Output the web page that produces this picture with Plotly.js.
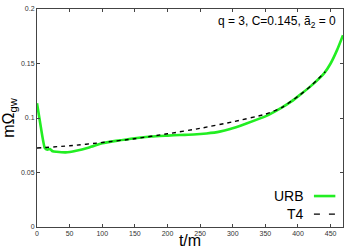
<!DOCTYPE html>
<html><head><meta charset="utf-8">
<script src="https://cdn.plot.ly/plotly-3.0.1.min.js"></script>
<style>html,body{margin:0;padding:0;background:#fff}#chart{width:356px;height:249px}</style>
</head><body><div id="chart"></div>
<script>
const urbT = [0, 5, 12, 16, 20, 24, 30, 44, 60, 80, 100, 121, 150, 175, 200, 219, 240, 260, 280, 296, 320, 350, 375, 390, 403, 420, 440, 450, 460, 469];
const urbY = [0.1135, 0.095, 0.0725, 0.071, 0.0715, 0.0695, 0.069, 0.0685, 0.070, 0.073, 0.0768, 0.079, 0.0815, 0.083, 0.0838, 0.0844, 0.0848, 0.0858, 0.0875, 0.0899, 0.0948, 0.1015, 0.1095, 0.1152, 0.1212, 0.1295, 0.1410, 0.1500, 0.1625, 0.1760];
const t4T = [0, 50, 100, 150, 200, 250, 300, 350, 375, 403, 420, 442];
const t4Y = [0.0725, 0.0745, 0.0775, 0.081, 0.0855, 0.0905, 0.0965, 0.1035, 0.1095, 0.1212, 0.1295, 0.1425];
const xTicks = [0, 50, 100, 150, 200, 250, 300, 350, 400, 450];
const yTicks = [0, 0.05, 0.1, 0.15, 0.2];
const yTickText = ["0", "0.05", "0.1", "0.15", "0.2"];
const legendNames = ["URB", "T4"];
const FONT = "Liberation Sans, Arial, Helvetica, sans-serif";

const traces = [
  {x: urbT, y: urbY, mode: "lines", name: legendNames[0], line: {color: "#22ee22", width: 2.6, shape: "spline", smoothing: 0.5}, showlegend: false},
  {x: t4T, y: t4Y, mode: "lines", name: legendNames[1], line: {color: "#000", width: 1.4, dash: "4px,4px", shape: "spline", smoothing: 0.5}, showlegend: false}
];

const layout = {
  width: 356, height: 249,
  margin: {l: 37, r: 13, t: 9, b: 22},
  paper_bgcolor: "#fff", plot_bgcolor: "#fff",
  font: {family: FONT, color: "#000"},
  xaxis: {
    range: [0, 469], tickvals: xTicks, ticks: "inside", ticklen: 3, tickcolor: "#444",
    showline: true, linecolor: "#444", linewidth: 1, mirror: "ticks", showgrid: false, zeroline: false,
    tickfont: {size: 7, color: "#333", family: FONT},
    title: {text: "t/m", font: {size: 16, family: FONT}, standoff: 2}
  },
  yaxis: {
    range: [0, 0.2], tickvals: yTicks, ticktext: yTickText, ticks: "inside", ticklen: 3, tickcolor: "#444",
    showline: true, linecolor: "#444", linewidth: 1, mirror: "ticks", showgrid: false, zeroline: false,
    tickfont: {size: 7, color: "#333", family: FONT},
    title: {text: "mΩ<sub>gw</sub>", font: {size: 16, family: FONT}, standoff: 4}
  },
  annotations: [
    {xref: "paper", yref: "paper", x: 0.985, y: 0.985, xanchor: "right", yanchor: "top", showarrow: false,
     text: "q = 3, C=0.145, ã<sub>2</sub> = 0", font: {size: 12, family: FONT}},
    {xref: "paper", yref: "paper", x: 0.880, y: 0.143, xanchor: "right", yanchor: "middle", showarrow: false,
     text: legendNames[0], font: {size: 14, family: FONT}},
    {xref: "paper", yref: "paper", x: 0.880, y: 0.060, xanchor: "right", yanchor: "middle", showarrow: false,
     text: legendNames[1], font: {size: 14, family: FONT}}
  ],
  shapes: [
    {type: "line", xref: "paper", yref: "paper", x0: 0.905, x1: 0.975, y0: 0.142, y1: 0.142, line: {color: "#22ee22", width: 2.6}},
    {type: "line", xref: "paper", yref: "paper", x0: 0.905, x1: 0.975, y0: 0.059, y1: 0.059, line: {color: "#000", width: 1.2, dash: "6px,9px"}}
  ]
};
Plotly.newPlot("chart", traces, layout, {staticPlot: true, displayModeBar: false});
</script></body></html>
